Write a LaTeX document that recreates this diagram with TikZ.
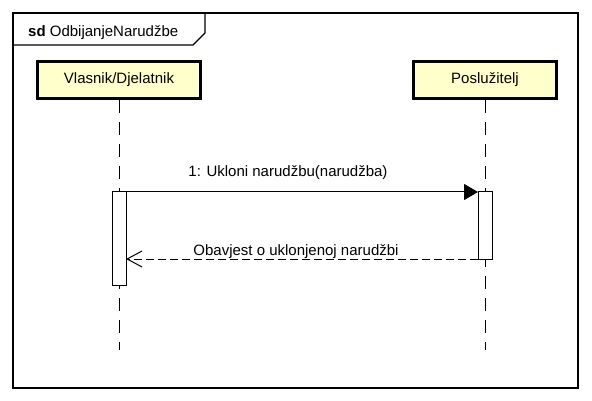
\documentclass[tikz,border=0pt]{standalone}
\usepackage{fontspec}
\setmainfont{Liberation Sans}
\usetikzlibrary{positioning}
\usetikzlibrary{arrows.meta}

\definecolor{headfill}{RGB}{255,255,204}

\begin{document}
\begin{tikzpicture}
  [
  x=1pt, y=-1pt,
  % 文字の設定
  every node/.style={font=\fontsize{15}{18}\selectfont, inner sep=0},
  % ライフラインの頭
  head/.style={rectangle, draw, fill=headfill, line width=3pt,
  minimum height=37pt},
  % 活性区間
  act/.style={rectangle, draw, fill=white, line width=1pt,
  minimum width=14pt, outer sep=0},
  % ライフライン
  life/.style={line width=1pt, dash pattern=on 13pt off 9pt},
  % 同期メッセージ
  msg/.style={-{Triangle[length=14pt, width=16pt]}, line width=1pt},
  % 戻りメッセージ
  reply/.style={-{Straight Barb[length=15pt, width=16pt]}, line width=1pt,
  dash pattern=on 8pt off 4pt},
  % 枠
  frame/.style={line width=1.3pt}
  ]
  \useasboundingbox (0,0) rectangle (592,401);
  \draw[frame] (13,13) rectangle (578,388);
  \draw[frame] (13,45) -- (193,45) -- (205,33) -- (205,13);
  \node[anchor=base west] (sd) at (28,37) {\textbf{sd} OdbijanjeNarudžbe};
  \node [head, minimum width=163pt] (vlasnik) at (119,80) {Vlasnik/Djelatnik};
  \node [head, minimum width=143pt] (posluzitelj) at (485,80) {Poslužitelj};
  \coordinate (vlasnikEnd) at (119,350);
  \coordinate (posluziteljEnd) at (485,350);
  \draw[life] (vlasnik.south) -- (vlasnikEnd);
  \draw[life] (posluzitelj.south) -- (posluziteljEnd);
  \node [act, minimum height=93pt, below=92pt of vlasnik] (actV) {};
  \node [act, minimum height=67pt, below=92pt of posluzitelj] (actP) {};
  \draw[msg] (actV.north east) -- (actP.north west);
  \node[anchor=base] (ukloni) at (288,177) {1: Ukloni narudžbu(narudžba)};
  \draw[reply] (actP.south west) -- (actV.east |- actP.south west);
  \node[anchor=base] (obavjest) at (296,255) {Obavjest o uklonjenoj narudžbi};
\end{tikzpicture}
\end{document}
